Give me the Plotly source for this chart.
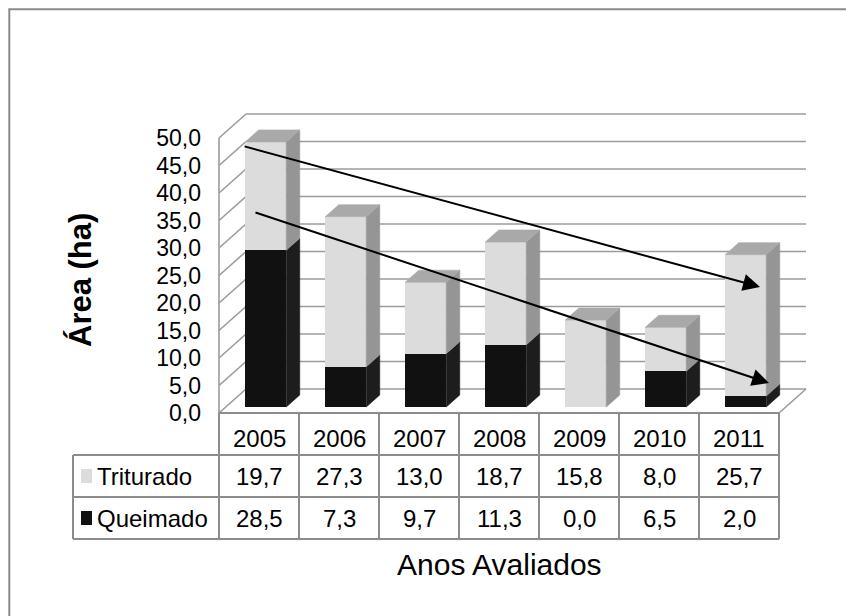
import plotly.graph_objects as go

# ---------------- data ----------------
years = ["2005", "2006", "2007", "2008", "2009", "2010", "2011"]
triturado = [19.7, 27.3, 13.0, 18.7, 15.8, 8.0, 25.7]
queimado = [28.5, 7.3, 9.7, 11.3, 0.0, 6.5, 2.0]
y_ticks = [0, 5, 10, 15, 20, 25, 30, 35, 40, 45, 50]
series_names = ["Triturado", "Queimado"]

# ---------------- geometry (pixel <-> data mapping) ----------------
FIG_W, FIG_H = 846, 616
PX_X0 = 219          # left edge of the category area (front)
CAT_PX = 80          # width of one category in px
PX_Y0 = 413          # front floor line in px
PX_PER_HA = 5.5
DEPTH_X_PX, DEPTH_Y_PX = 27, 24
BAR_PX = 41


def px2x(px):
    return (px - PX_X0) / CAT_PX - 0.5


def py2y(py):
    return (PX_Y0 - py) / PX_PER_HA


DX = DEPTH_X_PX / CAT_PX
DY = DEPTH_Y_PX / PX_PER_HA
BAR_W = BAR_PX / CAT_PX
n = len(years)
XL, XR = -0.5, n - 0.5
YMAX = y_ticks[-1]

FONT = "Liberation Sans, Arial, Helvetica, sans-serif"
GRID = "#9c9c9c"
TLINE = "#8c8c8c"

colors = {
    "Triturado": dict(front="#DCDCDC", side="#959595", top="#A9A9A9"),
    "Queimado": dict(front="#111111", side="#1D1D1D", top="#333333"),
}

fig = go.Figure()

# ---------------- bars (front faces) ----------------
xs = [i + DX / 4 for i in range(n)]
base0 = DY / 4
bases = {
    "Queimado": [base0] * n,
    "Triturado": [base0 + q for q in queimado],
}
values = {"Queimado": queimado, "Triturado": triturado}

for name in ["Queimado", "Triturado"]:
    fig.add_trace(go.Bar(
        x=xs, y=values[name], base=bases[name], width=BAR_W,
        marker=dict(color=colors[name]["front"], line=dict(width=0)),
        name=name, showlegend=False, hoverinfo="skip",
    ))

# ---------------- side & top faces (pseudo 3-D) ----------------
for name in ["Queimado", "Triturado"]:
    sx, sy, tx, ty = [], [], [], []
    for i in range(n):
        v = values[name][i]
        if v <= 0:
            continue
        b = bases[name][i]
        t = b + v
        xl = xs[i] - BAR_W / 2
        xr = xs[i] + BAR_W / 2
        sx += [xr, xr + DX / 2, xr + DX / 2, xr, xr, None]
        sy += [b, b + DY / 2, t + DY / 2, t, b, None]
        top_of_stack = (name == "Triturado") or (triturado[i] <= 0)
        if top_of_stack:
            tx += [xl, xl + DX / 2, xr + DX / 2, xr, xl, None]
            ty += [t, t + DY / 2, t + DY / 2, t, t, None]
    fig.add_trace(go.Scatter(
        x=sx, y=sy, mode="lines", fill="toself",
        fillcolor=colors[name]["side"],
        line=dict(color=colors[name]["side"], width=0.6),
        showlegend=False, hoverinfo="skip",
    ))
    if tx:
        fig.add_trace(go.Scatter(
            x=tx, y=ty, mode="lines", fill="toself",
            fillcolor=colors[name]["top"],
            line=dict(color=colors[name]["top"], width=0.6),
            showlegend=False, hoverinfo="skip",
        ))

# ---------------- walls, floor, grid ----------------
shapes = []


def line(x0, y0, x1, y1, color=GRID, width=1.6):
    shapes.append(dict(type="line", x0=x0, y0=y0, x1=x1, y1=y1,
                       xref="x", yref="y",
                       line=dict(color=color, width=width), layer="below"))


line(XL, 0, XL, YMAX)                       # left wall front edge
for v in y_ticks:
    line(XL, v, XL + DX, v + DY)            # left wall diagonals
    line(XL + DX, v + DY, XR + DX, v + DY)  # back wall grid
line(XR, 0, XR + DX, DY)                    # floor right edge

# ---------------- data table ----------------
ROW_PX = 42
LABEL_X = px2x(73)
r1 = py2y(PX_Y0 + ROW_PX)
r2 = py2y(PX_Y0 + 2 * ROW_PX)
r3 = py2y(PX_Y0 + 3 * ROW_PX)
line(XL, 0, XR, 0, TLINE, 2)
for yy in (r1, r2, r3):
    line(LABEL_X, yy, XR, yy, TLINE, 2)
for k in range(n + 1):
    line(XL + k, 0, XL + k, r3, TLINE, 2)
line(LABEL_X, r1, LABEL_X, r3, TLINE, 2)

# legend keys in the table
for j, name in enumerate(series_names):
    cy = PX_Y0 + ROW_PX * (j + 1) + ROW_PX / 2
    shapes.append(dict(type="rect", xref="x", yref="y",
                       x0=px2x(81), x1=px2x(92),
                       y0=py2y(cy - 7), y1=py2y(cy + 7),
                       fillcolor=colors[name]["front"], line=dict(width=0),
                       layer="below"))

# outer chart border (right/bottom outside the picture)
shapes.append(dict(type="rect", xref="paper", yref="paper",
                   x0=9.3 / FIG_W, x1=1.2, y0=-0.2, y1=1 - 9.3 / FIG_H,
                   line=dict(color="#8a8a8a", width=2), fillcolor="rgba(0,0,0,0)",
                   layer="below"))

annotations = []


def fmt(v):
    return f"{v:.1f}".replace(".", ",")


for i, yr in enumerate(years):
    annotations.append(dict(x=i, y=py2y(PX_Y0 + 25), xref="x", yref="y",
                            text=yr, showarrow=False,
                            xanchor="center", yanchor="middle",
                            font=dict(size=24, color="black", family=FONT)))
for j, name in enumerate(series_names):
    cy = PX_Y0 + ROW_PX * (j + 1) + ROW_PX / 2
    annotations.append(dict(x=px2x(95), y=py2y(cy), xref="x", yref="y",
                            text=name, showarrow=False, xanchor="left",
                            yanchor="middle",
                            font=dict(size=24, color="black", family=FONT)))
    for i in range(n):
        annotations.append(dict(x=i, y=py2y(cy), xref="x", yref="y",
                                text=fmt(values[name][i]), showarrow=False,
                                xanchor="center", yanchor="middle",
                                font=dict(size=24, color="black", family=FONT)))

# axis titles
annotations.append(dict(x=80 / FIG_W, y=1 - 280 / FIG_H, xref="paper", yref="paper",
                        text="<b>Área (ha)</b>", textangle=-90, showarrow=False,
                        xanchor="center", yanchor="middle",
                        font=dict(size=31, color="black", family=FONT)))
annotations.append(dict(x=499 / FIG_W, y=1 - 564 / FIG_H, xref="paper", yref="paper",
                        text="Anos Avaliados", showarrow=False,
                        xanchor="center", yanchor="middle",
                        font=dict(size=30, color="black", family=FONT)))

# trend arrows (hand-drawn in the original)
for (tail, head) in [((243, 146), (760, 287)), ((254, 212), (769, 383))]:
    annotations.append(dict(
        x=px2x(head[0]), y=py2y(head[1]), ax=px2x(tail[0]), ay=py2y(tail[1]),
        xref="x", yref="y", axref="x", ayref="y", text="",
        showarrow=True, arrowhead=2, arrowsize=1.7, arrowwidth=2,
        arrowcolor="black", standoff=0,
    ))

fig.update_layout(
    width=FIG_W, height=FIG_H,
    margin=dict(l=0, r=0, t=0, b=0),
    paper_bgcolor="white", plot_bgcolor="white",
    barmode="overlay", bargap=0,
    showlegend=False,
    shapes=shapes, annotations=annotations,
    font=dict(family=FONT, color="black"),
    xaxis=dict(range=[px2x(0), px2x(FIG_W)], visible=False, fixedrange=True),
    yaxis=dict(range=[py2y(FIG_H), py2y(0)], anchor="free", position=PX_X0 / FIG_W,
               side="left", tickvals=y_ticks, ticktext=[fmt(v) for v in y_ticks],
               showgrid=False, zeroline=False, showline=False, ticks="",
               ticklabelstandoff=18, automargin=False,
               tickfont=dict(size=23, color="black", family=FONT), fixedrange=True),
)

fig.write_html("out.html")
